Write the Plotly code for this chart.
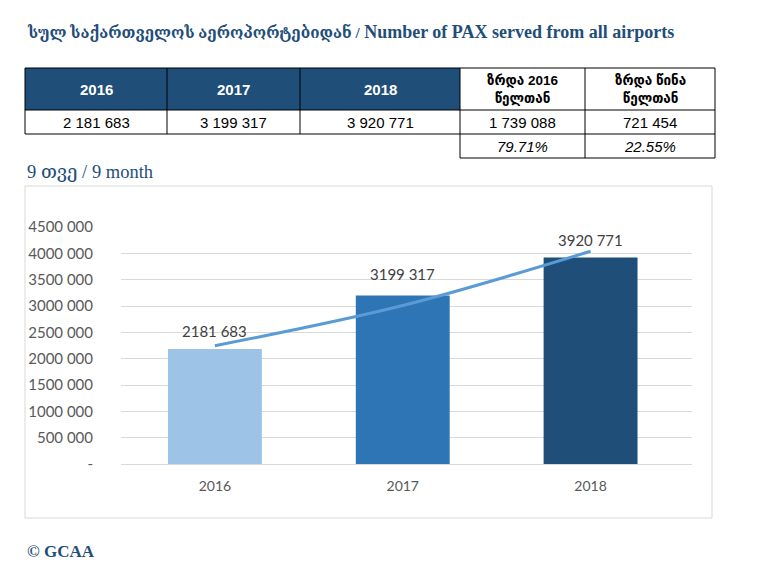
import plotly.graph_objects as go

# ---- data ----
years = ["2016", "2017", "2018"]
pax = [2181683, 3199317, 3920771]
bar_labels = ["2181 683", "3199 317", "3920 771"]
trend_values = [2247000, 3010000, 4040000]
ytick_vals = [0, 500000, 1000000, 1500000, 2000000, 2500000, 3000000, 3500000, 4000000, 4500000]
ytick_text = ["-", "500 000", "1000 000", "1500 000", "2000 000", "2500 000",
              "3000 000", "3500 000", "4000 000", "4500 000"]

table_header = ["2016", "2017", "2018", "ზრდა 2016<br>წელთან", "ზრდა წინა<br>წელთან"]
table_values = ["2 181 683", "3 199 317", "3 920 771", "1 739 088", "721 454"]
table_pct = ["79.71%", "22.55%"]

title_ka = "სულ საქართველოს აეროპორტებიდან /"
title_en = "Number of PAX served from all airports"
subtitle_text = "9 თვე / 9 month"
footer_text = "© GCAA"

# ---- layout geometry ----
W, H = 758, 581
L, R, T, B = 121, 66, 227, 117
PW, PH = W - L - R, H - T - B


def px(x):
    return (x - L) / PW


def py(y):
    return (H - B - y) / PH


bar_colors = ["#9DC3E6", "#2E75B6", "#1F4E79"]
dark_blue = "#1F4E79"
serif = "Liberation Serif, DejaVu Serif, serif"
sans = "Liberation Sans, Arial, DejaVu Sans, sans-serif"
calib = "Lato, Liberation Sans, sans-serif"

fig = go.Figure()
fig.add_trace(go.Bar(
    x=years, y=pax, marker=dict(color=bar_colors, line=dict(width=0)),
    width=0.5, showlegend=False, hoverinfo="skip",
))
fig.add_trace(go.Scatter(
    x=years, y=trend_values, mode="lines", line=dict(color="#5B9BD5", width=3, shape="spline"),
    showlegend=False, hoverinfo="skip",
))

annotations = []
label_shift = [18, 22, 18]
for i, (v, lab) in enumerate(zip(pax, bar_labels)):
    annotations.append(dict(x=i, y=v, xref="x", yref="y", text=lab, showarrow=False, yshift=label_shift[i],
                            font=dict(family=calib, size=15, color="#404040")))

# title, subtitle, footer
annotations.append(dict(x=px(25), y=py(32), xref="paper", yref="paper",
                        text="<span style='font-size:15.2px'><b>" + title_ka + "</b></span> <b>" + title_en + "</b>",
                        showarrow=False, xanchor="left", yanchor="middle",
                        font=dict(family=serif, size=18, color=dark_blue)))
annotations.append(dict(x=px(25), y=py(172), xref="paper", yref="paper", text=subtitle_text,
                        showarrow=False, xanchor="left", yanchor="middle",
                        font=dict(family=serif, size=18.5, color=dark_blue)))
annotations.append(dict(x=px(25), y=py(551), xref="paper", yref="paper", text="<b>" + footer_text + "</b>",
                        showarrow=False, xanchor="left", yanchor="middle",
                        font=dict(family=serif, size=17, color=dark_blue)))

shapes = []
# chart frame
shapes.append(dict(type="rect", xref="paper", yref="paper", x0=px(25), x1=px(712), y0=py(186), y1=py(518),
                   line=dict(color="#D9D9D9", width=1), layer="below"))

# table
col_x = [25, 167, 300, 460, 585, 715]
row_y = [68, 110, 134, 158]
shapes.append(dict(type="rect", xref="paper", yref="paper", x0=px(col_x[0]), x1=px(col_x[3]),
                   y0=py(row_y[0]), y1=py(row_y[1]), fillcolor=dark_blue, line=dict(width=0)))
line_style = dict(color="black", width=1)
for y in row_y[:3]:
    shapes.append(dict(type="line", xref="paper", yref="paper", x0=px(col_x[0]), x1=px(col_x[5]),
                       y0=py(y), y1=py(y), line=line_style))
shapes.append(dict(type="line", xref="paper", yref="paper", x0=px(col_x[3]), x1=px(col_x[5]),
                   y0=py(row_y[3]), y1=py(row_y[3]), line=line_style))
for i, x in enumerate(col_x):
    y_end = row_y[3] if i >= 3 else row_y[2]
    shapes.append(dict(type="line", xref="paper", yref="paper", x0=px(x), x1=px(x),
                       y0=py(row_y[0]), y1=py(y_end), line=line_style))

for i, txt in enumerate(table_header):
    cx = (col_x[i] + col_x[i + 1]) / 2
    cy = (row_y[0] + row_y[1]) / 2
    if i < 3:
        f = dict(family=sans, size=15, color="white")
    else:
        f = dict(family=sans, size=13.5, color="black")
    annotations.append(dict(x=px(cx), y=py(cy), xref="paper", yref="paper", text="<b>" + txt + "</b>",
                            showarrow=False, xanchor="center", yanchor="middle", font=f))
for i, txt in enumerate(table_values):
    cx = (col_x[i] + col_x[i + 1]) / 2
    cy = (row_y[1] + row_y[2]) / 2
    annotations.append(dict(x=px(cx), y=py(cy), xref="paper", yref="paper", text=txt, showarrow=False,
                            xanchor="center", yanchor="middle",
                            font=dict(family=sans, size=15, color="black")))
for i, txt in enumerate(table_pct):
    cx = (col_x[i + 3] + col_x[i + 4]) / 2
    cy = (row_y[2] + row_y[3]) / 2
    annotations.append(dict(x=px(cx), y=py(cy), xref="paper", yref="paper", text="<i>" + txt + "</i>",
                            showarrow=False, xanchor="center", yanchor="middle",
                            font=dict(family=sans, size=15, color="black")))

fig.update_layout(
    width=W, height=H,
    margin=dict(l=L, r=R, t=T, b=B, pad=0),
    paper_bgcolor="white", plot_bgcolor="white",
    annotations=annotations, shapes=shapes,
    xaxis=dict(type="category", range=[-0.5, 2.54], showgrid=False, showline=True,
               linecolor="#D9D9D9", linewidth=1, ticks="", fixedrange=True, ticklabelstandoff=9,
               tickfont=dict(family=calib, size=14, color="#595959")),
    yaxis=dict(range=[0, 4500000], tickvals=ytick_vals, ticktext=ytick_text, showgrid=True,
               gridcolor="#D9D9D9", gridwidth=1, zeroline=False, ticks="", ticklabelstandoff=27,
               fixedrange=True, tickfont=dict(family=calib, size=15, color="#595959")),
    bargap=0.5,
)

fig.write_html("out.html", config={"displayModeBar": False},
               post_script="document.body.style.margin='0';document.body.style.overflow='hidden';")
